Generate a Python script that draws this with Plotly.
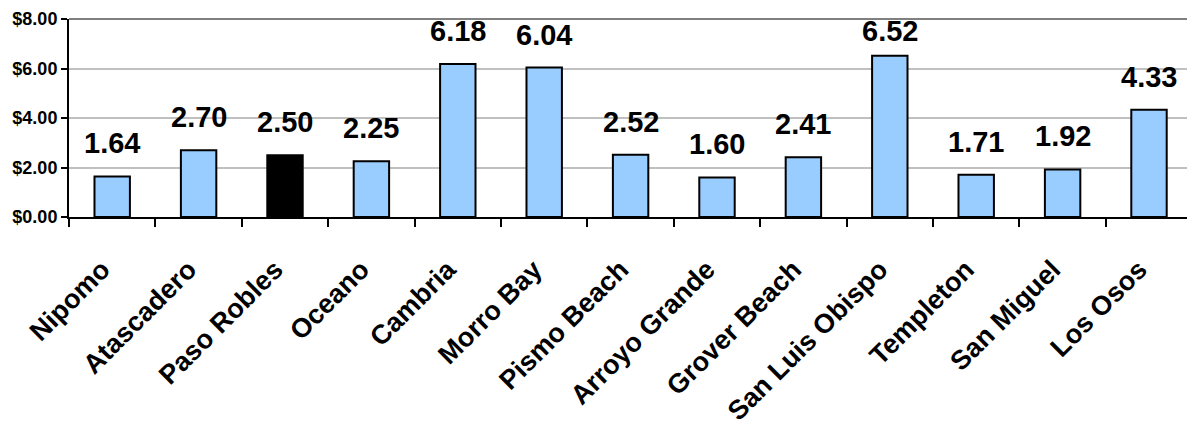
import plotly.graph_objects as go

categories = ["Nipomo", "Atascadero", "Paso Robles", "Oceano", "Cambria", "Morro Bay",
              "Pismo Beach", "Arroyo Grande", "Grover Beach", "San Luis Obispo",
              "Templeton", "San Miguel", "Los Osos"]
values = [1.64, 2.70, 2.50, 2.25, 6.18, 6.04, 2.52, 1.60, 2.41, 6.52, 1.71, 1.92, 4.33]
highlight = "Paso Robles"
y_ticks = [0, 2, 4, 6, 8]

FONT = "Liberation Sans, Arial, sans-serif"
colors = ["#000000" if c == highlight else "#99CCFF" for c in categories]

fig = go.Figure()
fig.add_trace(go.Bar(
    x=categories, y=values,
    marker=dict(color=colors, line=dict(color="#000000", width=2)),
    width=0.41,
))

label_cap = 6.2
for c, v in zip(categories, values):
    fig.add_annotation(
        x=c, y=min(v, label_cap), text=f"{v:.2f}", showarrow=False,
        yanchor="bottom", xanchor="center", yshift=15,
        font=dict(family=FONT, size=29, color="#000000", weight="bold"),
    )

# top border line of plot area
fig.add_shape(type="line", xref="paper", yref="y domain", x0=0, x1=1, y0=1, y1=1,
              line=dict(color="#808080", width=2))

plot_w = 1187 - 69
cat_w = 86.4
fig.update_layout(
    width=1187, height=423,
    margin=dict(l=69, r=0, t=19, b=206, autoexpand=False),
    plot_bgcolor="#FFFFFF", paper_bgcolor="#FFFFFF",
    showlegend=False,
    xaxis=dict(
        range=[-0.5, -0.5 + plot_w / cat_w],
        tickangle=-45,
        tickfont=dict(family=FONT, size=27, color="#000000", weight="bold"),
        showline=True, linecolor="#000000", linewidth=2,
        ticks="outside", ticklen=8, tickwidth=2, tickcolor="#000000",
        tickson="boundaries",
        ticklabelstandoff=24,
        ticklabelshift=-10,
        showgrid=False, zeroline=False,
        automargin=False,
        fixedrange=True,
    ),
    yaxis=dict(
        range=[0, 8],
        tickvals=y_ticks,
        tickformat="$.2f",
        tickfont=dict(family=FONT, size=18, color="#000000", weight="bold"),
        showline=True, linecolor="#000000", linewidth=2,
        ticks="outside", ticklen=6, tickwidth=2, tickcolor="#000000",
        ticklabelstandoff=0,
        showgrid=True, gridcolor="#C0C0C0", gridwidth=2,
        zeroline=False,
        automargin=False,
        fixedrange=True,
    ),
)

fig.write_html("out.html")
